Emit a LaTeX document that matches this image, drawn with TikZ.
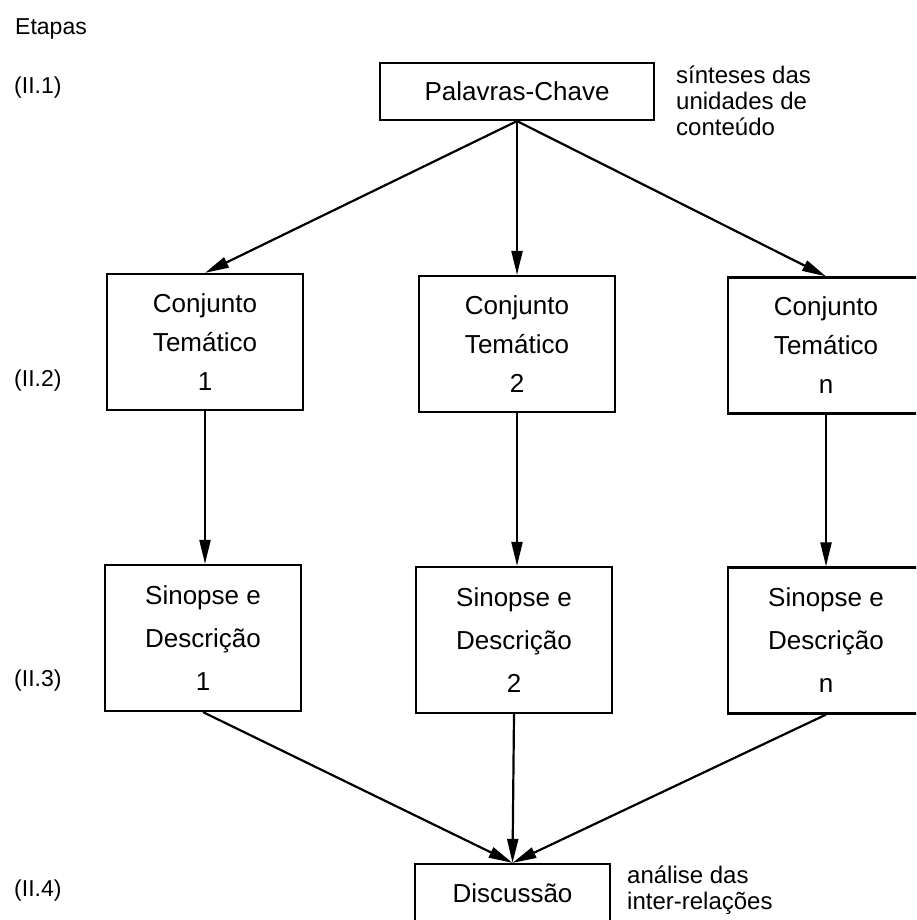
\documentclass[tikz,border=0pt]{standalone}
\usepackage{fontspec}
\setmainfont{Liberation Sans}
\usetikzlibrary{arrows.meta}
\begin{document}
\begin{tikzpicture}[x=1pt,y=-1pt,
  box/.style={draw, line width=2.2pt, inner sep=0pt, align=center, minimum width=196pt},
  cbox/.style={box, minimum height=136pt, font=\fontsize{26}{39}\selectfont},
  sbox/.style={box, minimum height=146pt, font=\fontsize{26}{43}\selectfont},
  lbl/.style={inner sep=0pt, anchor=base west, font=\fontsize{23}{25}\selectfont},
  side/.style={inner sep=0pt, anchor=base west, align=left, font=\fontsize{24}{26}\selectfont},
  arr/.style={line width=2.2pt, -{Triangle[length=24pt,width=11pt]}}]
\useasboundingbox (0,0) rectangle (916,920);
\clip (0,0) rectangle (916,920);
\fill[white] (0,0) rectangle (916,920);

% stage labels
\node[lbl] (etapas) at (15,35) {Etapas};
\node[lbl] (l1) at (14,94) {(II.1)};
\node[lbl] (l2) at (14,386) {(II.2)};
\node[lbl] (l3) at (14,686) {(II.3)};
\node[lbl] (l4) at (14,896) {(II.4)};

% boxes
\node[box, minimum width=274pt, minimum height=57pt, font=\fontsize{26}{30}\selectfont] (pal) at (517,91.5) {Palavras-Chave};
\node[cbox] (c1) at (205,342) {Conjunto\\Temático\\1};
\node[cbox] (c2) at (517,344) {Conjunto\\Temático\\2};
\node[cbox] (c3) at (826,345.5) {Conjunto\\Temático\\n};
\node[sbox] (s1) at (203,638) {Sinopse e\\Descrição\\1};
\node[sbox] (s2) at (514,640) {Sinopse e\\Descrição\\2};
\node[sbox] (s3) at (826,640.5) {Sinopse e\\Descrição\\n};
\node[box, minimum width=195pt, minimum height=58pt, font=\fontsize{26}{30}\selectfont] (d) at (512.5,893) {Discussão};

% side notes (base anchor = baseline of last line)
\node[side] (n1) at (676,136) {sínteses das\\unidades de\\conteúdo};
\node[side] (n2) at (627,909) {análise das\\inter-relações};

% connectors
\draw[arr] (pal.south) -- (c1.north);
\draw[arr] (pal.south) -- (c2.north);
\draw[arr] (pal.south) -- (c3.north);
\draw[arr] (c1.south) -- (c1.south |- s1.north);
\draw[arr] (c2.south) -- (c2.south |- s2.north);
\draw[arr] (c3.south) -- (c3.south |- s3.north);
\draw[arr] (s1.south) -- (d.north);
\draw[arr] (s2.south) -- (d.north);
\draw[arr] (s3.south) -- (d.north);
\end{tikzpicture}
\end{document}
